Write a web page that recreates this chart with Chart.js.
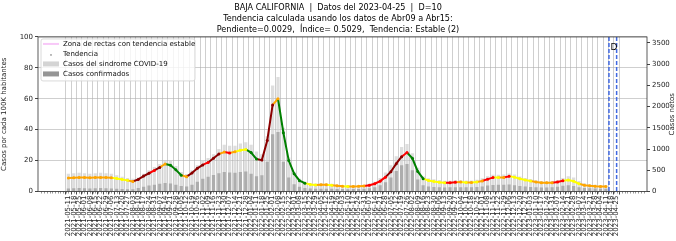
<!DOCTYPE html>
<html>
<head>
<meta charset="utf-8">
<script src="https://cdn.jsdelivr.net/npm/chart.js@4.4.0/dist/chart.umd.min.js"></script>
<style>
  html, body { margin: 0; padding: 0; background: #fff; }
  canvas { display: block; }
</style>
</head>
<body>
<canvas id="grafica" width="676" height="241"></canvas>
<script>
// datos semanales
var inicio = '2021-05-11';
var fechaCorte = '2023-04-15';
var fechaD = '2023-04-25';

var titulo = [
    'BAJA CALIFORNIA  |  Datos del 2023-04-25  |  D=10',
    'Tendencia calculada usando los datos de Abr09 a Abr15:',
    'Pendiente=0.0029,  Índice= 0.5029,  Tendencia: Estable (2)'
];

var tendencia = [
    8.8, 8.9, 9.0, 9.0, 8.9, 9.0, 9.0, 9.0, 8.9, 8.4,
    7.8, 7.2, 6.5, 7.8, 10.0, 11.8, 13.6, 15.6, 17.8, 17.0,
    14.0, 10.5, 9.6, 12.0, 15.0, 17.2, 18.8, 21.5, 24.3, 25.5,
    24.9, 25.7, 26.7, 27.2, 25.2, 21.0, 20.3, 33.0, 56.0, 60.0,
    38.0, 20.0, 11.5, 7.0, 5.4, 4.5, 4.2, 4.4, 4.4, 4.1,
    3.7, 3.4, 3.2, 3.3, 3.4, 3.6, 4.1, 5.0, 6.7, 9.3,
    12.8, 18.0, 22.5, 25.2, 21.5, 13.0, 8.3, 7.1, 6.5, 6.0,
    5.6, 5.6, 6.0, 6.1, 5.8, 5.8, 6.2, 6.8, 8.0, 9.0,
    9.1, 9.0, 9.8, 9.3, 8.2, 7.4, 6.8, 6.1, 5.6, 5.6,
    5.7, 6.1, 6.9, 7.5, 6.6, 5.0, 4.1, 3.7, 3.4, 3.2,
    3.3
];

// O naranja, A amarillo, R rojo, D rojo oscuro, V verde
var claseTendencia = [
    'O','O','O','O','O','O','O','O','O','A',
    'A','A','O','D','D','D','R','D','O','V',
    'V','V','O','D','D','D','R','D','D','O',
    'R','O','A','A','V','V','D','D','D','O',
    'V','V','V','V','V','A','A','O','O','A',
    'O','O','A','O','O','O','R','R','R','R',
    'D','D','D','R','V','V','V','A','A','A',
    'A','R','R','O','A','O','A','O','R','R',
    'A','O','R','A','A','A','A','O','O','O',
    'O','R','R','A','A','A','O','O','O','O',
    'O'
];

var casosSindrome = [
    420, 430, 440, 430, 420, 430, 440, 430, 420, 380,
    350, 320, 300, 330, 420, 500, 580, 650, 730, 720,
    600, 460, 410, 500, 620, 720, 790, 880, 1000, 1100,
    1080, 1080, 1130, 1160, 1100, 940, 880, 1300, 2500, 2700,
    1500, 800, 450, 300, 230, 200, 190, 195, 195, 180,
    165, 155, 148, 148, 152, 160, 185, 230, 320, 450,
    620, 830, 1050, 1120, 900, 560, 360, 310, 290, 270,
    255, 255, 270, 270, 258, 258, 275, 310, 360, 395,
    395, 400, 425, 400, 355, 320, 295, 265, 245, 242,
    250, 270, 320, 360, 330, 250, 195, 172, 158, 148,
    145
];

var casosConfirmados = [
    70, 75, 80, 75, 70, 75, 80, 75, 70, 65,
    60, 55, 55, 80, 110, 140, 160, 180, 200, 190,
    160, 130, 120, 160, 230, 300, 350, 390, 430, 460,
    450, 440, 460, 470, 420, 360, 380, 700, 1350, 1400,
    700, 330, 170, 110, 80, 70, 65, 65, 65, 62,
    60, 57, 55, 57, 60, 62, 75, 100, 150, 220,
    330, 480, 620, 650, 500, 280, 150, 115, 108, 102,
    97, 98, 103, 102, 100, 102, 108, 120, 140, 155,
    157, 158, 163, 150, 130, 118, 108, 98, 92, 93,
    100, 112, 135, 148, 130, 100, 82, 76, 71, 66,
    65
];

var ticksIzq = [0, 20, 40, 60, 80, 100];
var ticksDer = [0, 500, 1000, 1500, 2000, 2500, 3000, 3500];

var colores = { O: '#ffa500', A: '#ffff00', R: '#ff0000', D: '#8b0000', V: '#008000' };
var fuente = '"DejaVu Sans", sans-serif';
var fuenteTitulo = '"DejaVu Sans Condensed", "DejaVu Sans", sans-serif';

function dias(f) {
    return (Date.parse(f) - Date.parse(inicio)) / 86400000;
}
function fechaDe(d) {
    return new Date(Date.parse(inicio) + d * 86400000).toISOString().slice(0, 10);
}

var N = dias(fechaD);
var ticksX = [];
for (var d = 0; d <= N; d += 7) ticksX.push(d);

var ptsTend = [], ptsSind = [], ptsConf = [];
for (var i = 0; i < tendencia.length; i++) {
    ptsTend.push({ x: i * 7, y: tendencia[i] });
    ptsSind.push({ x: i * 7, y: casosSindrome[i] });
    ptsConf.push({ x: i * 7, y: casosConfirmados[i] });
}

var extras = {
    id: 'extras',
    afterDatasetsDraw: function (chart) {
        var ctx = chart.ctx, a = chart.chartArea, sx = chart.scales.x;
        ctx.save();
        // marcas menores del eje x
        ctx.strokeStyle = '#555';
        ctx.lineWidth = 0.6;
        ctx.beginPath();
        for (var m = Math.ceil(sx.min / 3.5) * 3.5; m <= sx.max; m += 3.5) {
            var mx = Math.round(sx.getPixelForValue(m)) + 0.5;
            ctx.moveTo(mx, a.bottom);
            ctx.lineTo(mx, a.bottom + 2);
        }
        ctx.stroke();
        ctx.strokeStyle = '#4169e1';
        ctx.lineWidth = 1.5;
        ctx.setLineDash([4, 2]);
        [fechaCorte, fechaD].forEach(function (f) {
            var px = sx.getPixelForValue(dias(f));
            ctx.beginPath();
            ctx.moveTo(px, a.top);
            ctx.lineTo(px, a.bottom);
            ctx.stroke();
        });
        ctx.setLineDash([]);
        ctx.fillStyle = '#000';
        ctx.font = '9px ' + fuente;
        ctx.textBaseline = 'top';
        ctx.fillText('D', sx.getPixelForValue(dias(fechaCorte)) + 1.5, a.top + 6);
        ctx.strokeStyle = '#333';
        ctx.lineWidth = 0.8;
        ctx.strokeRect(a.left, a.top, a.right - a.left, a.bottom - a.top);
        // titulo del eje derecho, leido de abajo hacia arriba
        ctx.translate(chart.width - 3.5, (a.top + a.bottom) / 2);
        ctx.rotate(-Math.PI / 2);
        ctx.font = '7px ' + fuente;
        ctx.fillStyle = '#222';
        ctx.textAlign = 'center';
        ctx.textBaseline = 'middle';
        ctx.fillText('Casos netos', 0, 0);
        ctx.restore();
    },
    afterDraw: function (chart) {
        var ctx = chart.ctx, a = chart.chartArea;
        var x0 = a.left + 3, y0 = a.top + 2, w = 154, h = 42;
        ctx.save();
        ctx.fillStyle = 'rgba(255,255,255,0.8)';
        ctx.strokeStyle = '#d0d0d0';
        ctx.lineWidth = 0.8;
        ctx.beginPath();
        ctx.roundRect(x0, y0, w, h, 2);
        ctx.fill();
        ctx.stroke();
        var filas = [
            'Zona de rectas con tendencia estable',
            'Tendencia',
            'Casos del sindrome COVID-19',
            'Casos confirmados'
        ];
        ctx.font = '7px ' + fuente;
        ctx.textBaseline = 'middle';
        for (var k = 0; k < filas.length; k++) {
            var yy = y0 + 5 + k * 10;
            if (k === 0) {
                ctx.strokeStyle = '#f8c8f8';
                ctx.lineWidth = 2;
                ctx.beginPath();
                ctx.moveTo(x0 + 2, yy);
                ctx.lineTo(x0 + 18, yy);
                ctx.stroke();
            } else if (k === 1) {
                ctx.fillStyle = '#999';
                ctx.beginPath();
                ctx.arc(x0 + 10, yy + 1, 0.9, 0, Math.PI * 2);
                ctx.fill();
            } else {
                ctx.fillStyle = k === 2 ? '#d4d4d4' : '#959595';
                ctx.fillRect(x0 + 2, yy - 2.5, 16, 5);
            }
            ctx.fillStyle = '#111';
            ctx.fillText(filas[k], x0 + 22, yy);
        }
        ctx.restore();
    }
};

new Chart(document.getElementById('grafica'), {
    data: {
        datasets: [
            {
                type: 'line',
                label: 'Tendencia',
                data: ptsTend,
                yAxisID: 'y',
                order: 0,
                borderWidth: 2,
                pointRadius: 1.5,
                pointBorderWidth: 0,
                pointBackgroundColor: claseTendencia.map(function (c) { return colores[c]; }),
                segment: {
                    borderColor: function (c) { return colores[claseTendencia[c.p1DataIndex]]; }
                }
            },
            {
                type: 'bar',
                label: 'Casos confirmados',
                data: ptsConf,
                yAxisID: 'y1',
                order: 1,
                grouped: false,
                backgroundColor: 'rgba(140,140,140,0.6)',
                barPercentage: 0.6,
                categoryPercentage: 1
            },
            {
                type: 'bar',
                label: 'Casos del sindrome COVID-19',
                data: ptsSind,
                yAxisID: 'y1',
                order: 2,
                grouped: false,
                backgroundColor: 'rgba(205,205,205,0.65)',
                barPercentage: 0.6,
                categoryPercentage: 1
            }
        ]
    },
    options: {
        responsive: false,
        animation: false,
        devicePixelRatio: 1,
        layout: { padding: 0 },
        plugins: {
            legend: { display: false },
            tooltip: { enabled: false },
            title: {
                display: true,
                text: titulo,
                color: '#000',
                font: { family: fuenteTitulo, size: 9, weight: 'normal', lineHeight: 1.22 },
                padding: { top: 2, bottom: 2 }
            }
        },
        scales: {
            x: {
                type: 'linear',
                min: -0.05 * N,
                max: 1.05 * N,
                afterBuildTicks: function (s) { s.ticks = ticksX.map(function (v) { return { value: v }; }); },
                afterFit: function (s) { s.height = 49.5; },
                ticks: {
                    autoSkip: false,
                    minRotation: 90,
                    maxRotation: 90,
                    padding: 1,
                    color: '#222',
                    font: { family: fuente, size: 7 },
                    callback: function (v) { return fechaDe(v); }
                },
                grid: { color: 'rgba(175,175,175,0.6)', lineWidth: 1, tickLength: 3, tickColor: '#444' },
                border: { display: false }
            },
            y: {
                position: 'left',
                min: 0,
                max: 100,
                afterBuildTicks: function (s) { s.ticks = ticksIzq.map(function (v) { return { value: v }; }); },
                afterFit: function (s) { s.width = 38; },
                ticks: { color: '#222', padding: 2, font: { family: fuente, size: 7 } },
                grid: { color: 'rgba(175,175,175,0.6)', lineWidth: 1, tickLength: 3, tickColor: '#444' },
                border: { display: false },
                title: {
                    display: true,
                    text: 'Casos por cada 100K habitantes',
                    color: '#222',
                    font: { family: fuente, size: 7 },
                    padding: { top: 0, bottom: 2 }
                }
            },
            y1: {
                position: 'right',
                min: 0,
                max: 3641,
                afterBuildTicks: function (s) { s.ticks = ticksDer.map(function (v) { return { value: v }; }); },
                afterFit: function (s) { s.width = 29; },
                ticks: {
                    color: '#222',
                    padding: 2,
                    font: { family: fuente, size: 7 },
                    callback: function (v) { return String(v); }
                },
                grid: { drawOnChartArea: false, tickLength: 3, tickColor: '#444' },
                border: { display: false }
            }
        }
    },
    plugins: [extras]
});
</script>
</body>
</html>
